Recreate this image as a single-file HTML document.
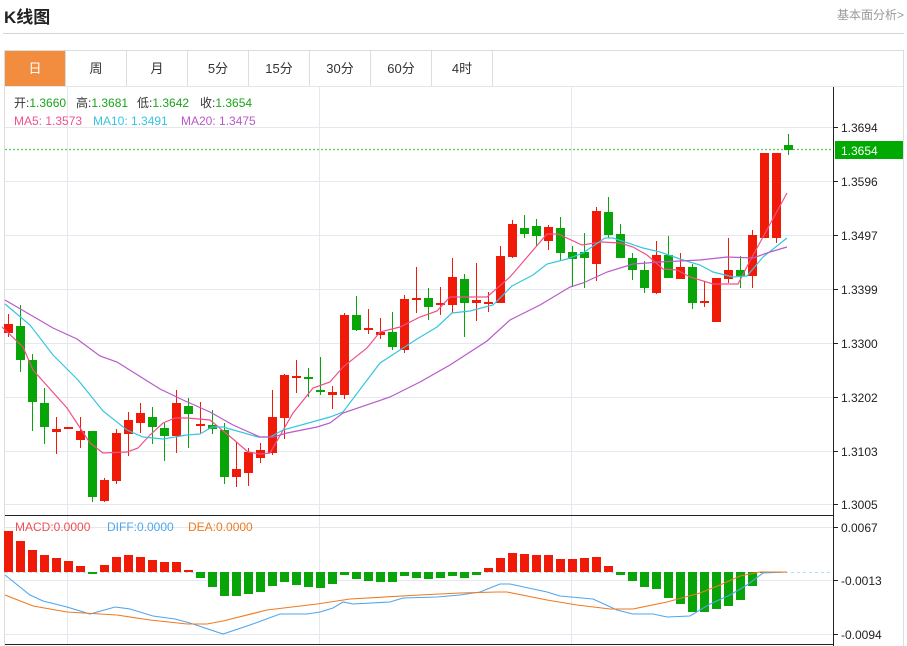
<!DOCTYPE html>
<html><head><meta charset="utf-8"><style>
body{margin:0;width:907px;height:646px;overflow:hidden;background:#fff;font-family:"Liberation Sans","Noto Sans CJK SC",sans-serif;position:relative}
.t{position:absolute;left:4px;top:3px;font-size:17px;font-weight:bold;color:#222}
.r{position:absolute;right:3px;top:6px;font-size:12px;color:#999}
.hl{position:absolute;left:3px;top:33px;width:901px;height:1px;background:#d5d5d5}
.tabs{position:absolute;left:4px;top:50px;width:898px;height:35px;border:1px solid #ddd;border-bottom:1px solid #e5e5e5}
.tab{position:absolute;top:0;height:35px;line-height:35px;text-align:center;font-size:13px;color:#333;border-right:1px solid #ddd}
.on{background:#f28c3f;color:#fff}
</style></head><body>
<div class="t">K线图</div><div class="r">基本面分析&gt;</div><div class="hl"></div>
<div class="tabs">
<div class="tab on" style="left:0;width:60px">日</div>
<div class="tab" style="left:61px;width:60px">周</div>
<div class="tab" style="left:122px;width:60px">月</div>
<div class="tab" style="left:183px;width:60px">5分</div>
<div class="tab" style="left:244px;width:60px">15分</div>
<div class="tab" style="left:305px;width:60px">30分</div>
<div class="tab" style="left:366px;width:60px">60分</div>
<div class="tab" style="left:427px;width:60px">4时</div>
</div>
<svg width="907" height="646" style="position:absolute;left:0;top:0" font-family="Liberation Sans, Noto Sans CJK SC, sans-serif">
<line x1="4.5" y1="86" x2="4.5" y2="646" stroke="#ddd"/>
<line x1="903.5" y1="86" x2="903.5" y2="646" stroke="#ddd"/>
<g stroke="#e3e9ef" stroke-width="1">
<line x1="5" y1="127.5" x2="833" y2="127.5"/><line x1="5" y1="181.5" x2="833" y2="181.5"/>
<line x1="5" y1="235.5" x2="833" y2="235.5"/><line x1="5" y1="289.5" x2="833" y2="289.5"/>
<line x1="5" y1="343.5" x2="833" y2="343.5"/><line x1="5" y1="397.5" x2="833" y2="397.5"/>
<line x1="5" y1="451.5" x2="833" y2="451.5"/><line x1="5" y1="504.5" x2="833" y2="504.5"/>
<line x1="5" y1="527.5" x2="833" y2="527.5"/><line x1="5" y1="580.5" x2="833" y2="580.5"/><line x1="5" y1="634.5" x2="833" y2="634.5"/>
<line x1="67.5" y1="86" x2="67.5" y2="644"/><line x1="319.5" y1="86" x2="319.5" y2="644"/><line x1="571.5" y1="86" x2="571.5" y2="644"/>
</g>
<line x1="5" y1="515.5" x2="833" y2="515.5" stroke="#222"/>
<line x1="5" y1="644.5" x2="833" y2="644.5" stroke="#222"/>
<line x1="833.5" y1="87" x2="833.5" y2="646" stroke="#222"/>
<g stroke="#222"><line x1="833" y1="127.5" x2="838" y2="127.5"/><line x1="833" y1="181.5" x2="838" y2="181.5"/><line x1="833" y1="235.5" x2="838" y2="235.5"/><line x1="833" y1="289.5" x2="838" y2="289.5"/><line x1="833" y1="343.5" x2="838" y2="343.5"/><line x1="833" y1="397.5" x2="838" y2="397.5"/><line x1="833" y1="451.5" x2="838" y2="451.5"/><line x1="833" y1="504.5" x2="838" y2="504.5"/><line x1="833" y1="527.5" x2="838" y2="527.5"/><line x1="833" y1="580.5" x2="838" y2="580.5"/><line x1="833" y1="634.5" x2="838" y2="634.5"/></g>
<g font-size="12" fill="#222">
<text x="841" y="132">1.3694</text><text x="841" y="186">1.3596</text><text x="841" y="240">1.3497</text><text x="841" y="294">1.3399</text><text x="841" y="348">1.3300</text><text x="841" y="402">1.3202</text><text x="841" y="456">1.3103</text><text x="841" y="509">1.3005</text>
<text x="841" y="532">0.0067</text><text x="841" y="585">-0.0013</text><text x="841" y="639">-0.0094</text>
</g>
<line x1="5" y1="149.5" x2="833" y2="149.5" stroke="#5cc85c" stroke-width="1.3" stroke-dasharray="2,2"/>
<rect x="835" y="141" width="68" height="18" fill="#0a0"/>
<text x="841" y="155" font-size="12" fill="#fff">1.3654</text>
<line x1="5" y1="572.5" x2="833" y2="572.5" stroke="#b5dcef" stroke-dasharray="3,3"/>
<g font-size="12">
<text x="14" y="107" fill="#333">开:<tspan fill="#1aa31a">1.3660</tspan></text>
<text x="76" y="107" fill="#333">高:<tspan fill="#1aa31a">1.3681</tspan></text>
<text x="137" y="107" fill="#333">低:<tspan fill="#1aa31a">1.3642</tspan></text>
<text x="200" y="107" fill="#333">收:<tspan fill="#1aa31a">1.3654</tspan></text>
<text x="14" y="125" fill="#f0508a">MA5: 1.3573</text><text x="93" y="125" fill="#35c6df">MA10: 1.3491</text><text x="181" y="125" fill="#b85ac8">MA20: 1.3475</text>
<text x="15" y="531" fill="#f05050">MACD:0.0000</text><text x="107" y="531" fill="#4ea6ef">DIFF:0.0000</text><text x="188" y="531" fill="#f07a20">DEA:0.0000</text>
</g>
<g id="c"></g><g id="m"></g>
<polyline fill="none" stroke="#f0508a" stroke-width="1.2" points="2,327 23,347 33,370 67,408 90,443 103,453 127,452 138,448 150,435 163,423 175,418 187,418 210,420 233,439 248,452 260,454 270,453 293,413 313,388 330,382 343,367 367,348 380,332 400,327 420,317 437,311 450,297 487,297 510,277 547,234 558,234 582,245 602,242 620,243 633,247 647,255 663,269 677,270 690,277 713,284 738,284 752,257 763,237 787,193"/>
<polyline fill="none" stroke="#35c6df" stroke-width="1.2" points="5,304 30,325 53,355 78,380 103,411 127,430 143,437 163,439 187,435 200,434 212,427 223,427 258,437 270,437 283,430 330,417 343,412 380,363 400,350 417,339 437,327 452,313 470,311 493,305 512,286 533,275 547,264 567,259 583,253 605,238 613,238 643,248 660,252 683,260 700,265 713,272 733,277 747,276 763,257 787,238"/>
<polyline fill="none" stroke="#b85ac8" stroke-width="1.2" points="5,300 53,328 77,339 100,356 117,362 160,389 183,400 210,412 233,425 260,437 273,437 287,433 317,427 330,423 343,413 390,397 420,382 450,365 487,341 510,320 540,305 570,287 583,283 607,272 633,264 660,262 700,260 727,257 753,258 770,252 787,247"/>
<polyline fill="none" stroke="#4ea6ef" stroke-width="1.1" points="5,575 30,595 43,601 67,607 90,614 115,607 130,609 153,616 175,619 190,623 223,634 250,625 280,614 307,614 320,612 333,608 343,602 353,604 390,602 403,598 437,597 460,595 480,592 500,584 510,584 547,592 560,596 593,599 617,610 633,614 653,614 667,617 690,616 710,604 730,595 747,585 763,573 787,572"/>
<polyline fill="none" stroke="#f07a20" stroke-width="1.1" points="5,595 33,606 67,612 100,614 117,615 150,620 187,624 207,624 223,621 267,610 317,604 350,599 420,595 460,593 497,592 507,592 547,600 577,605 610,609 633,609 667,602 700,593 720,585 740,576 760,572 787,572"/>
</svg>
<script>
var K=[[324,333,314,337,1],[326,360,305,372,0],[360,402,354,431,0],[403,427,388,444,0],[429,432,417,454,1],[427,428,427,428,1],[431,440,417,448,1],[431,497,432,502,0],[480,501,478,502,1],[433,481,429,484,1],[420,434,412,456,1],[413,423,403,433,1],[417,427,407,444,0],[428,436,423,461,0],[403,436,390,453,1],[406,414,398,448,0],[424,426,402,433,1],[425,429,410,434,0],[430,477,423,484,0],[469,477,442,487,1],[452,473,448,486,1],[450,458,443,463,1],[417,453,390,455,1],[375,418,374,439,1],[376,378,360,393,1],[377,379,368,397,0],[390,392,357,395,0],[392,395,386,409,1],[315,395,313,399,1],[315,330,296,331,0],[328,330,309,334,1],[332,335,318,339,1],[332,347,312,350,0],[299,350,295,353,1],[298,300,267,313,1],[298,307,288,320,0],[303,305,287,315,1],[277,305,258,313,1],[279,303,274,337,0],[300,303,263,321,1],[302,304,292,312,1],[256,303,246,303,1],[224,257,220,258,1],[228,234,215,238,0],[226,236,219,246,0],[227,241,225,250,1],[228,253,217,260,0],[252,259,246,287,0],[252,258,233,288,0],[211,264,207,281,1],[212,235,197,238,0],[234,258,224,258,0],[258,270,253,280,0],[270,288,261,293,0],[255,293,241,294,1],[255,278,236,278,0],[267,279,253,279,1],[267,303,264,309,0],[301,303,281,307,1],[278,322,278,322,1],[270,279,238,283,1],[270,276,256,288,0],[235,276,230,288,1],[153,238,153,238,1],[153,238,153,243,1],[145,150,134,155,0]];
var M=[531,541,550,555,558,561,566,574,565,557,555,557,560,562,562,570,578,587,596,596,594,592,586,582,585,587,588,584,575,579,581,582,582,576,578,579,578,576,578,575,568,558,553,554,555,555,559,559,558,557,566,575,581,587,589,598,604,612,612,609,606,600,586,573,572,572];
var s='',m='',Z=572;
for(var i=0;i<K.length;i++){var x=8+i*12,k=K[i],c=k[4]?'#f01a08':'#07a507';
s+='<line x1="'+(x+.5)+'" y1="'+k[2]+'" x2="'+(x+.5)+'" y2="'+k[3]+'" stroke="'+c+'"/>';
s+='<rect x="'+(x-4)+'" y="'+k[0]+'" width="9" height="'+Math.max(2,k[1]-k[0])+'" fill="'+c+'"/>';
var v=M[i],col=v<Z?'#f01a08':'#07a507',y=Math.min(v,Z),h=Math.abs(v-Z);if(h>0)m+='<rect x="'+(x-4)+'" y="'+y+'" width="9" height="'+h+'" fill="'+col+'"/>';}
document.getElementById('c').innerHTML=s;document.getElementById('m').innerHTML=m;
</script>
</body></html>
